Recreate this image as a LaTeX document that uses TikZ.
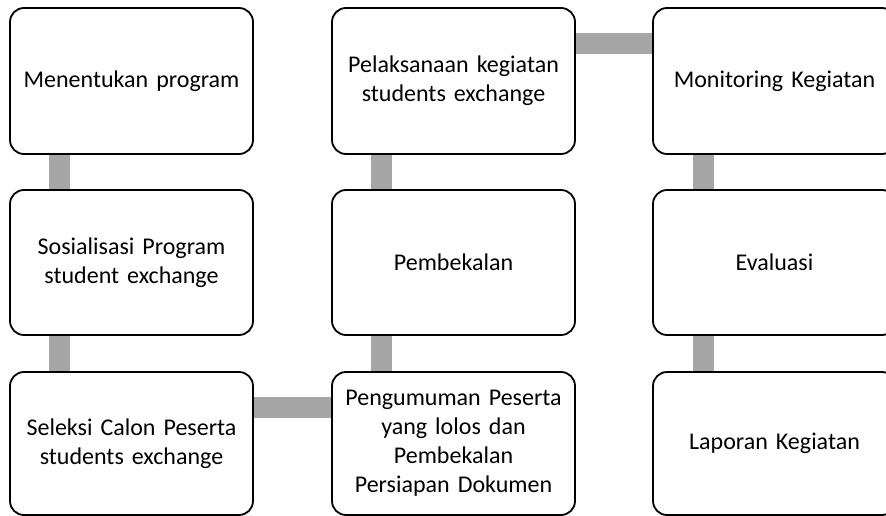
\documentclass[tikz,border=0pt]{standalone}
\usepackage{fontspec}
\setmainfont{Carlito}
\usetikzlibrary{calc,backgrounds}
\definecolor{conngray}{HTML}{A6A6A6}
\tikzset{
  stepbox/.style={draw=black, fill=white, line width=1.8pt, rounded corners=14pt,
    minimum width=243pt, inner sep=0pt, text width=236pt, align=center,
    font=\fontsize{24}{29}\selectfont},
  conn/.style={draw=conngray, line width=21pt, line cap=butt}
}
\begin{document}
\begin{tikzpicture}[x=1pt,y=-1pt]
\useasboundingbox (0,0) rectangle (886,516);
% column 1
\node[stepbox, minimum height=146pt] (a1) at (131.5,81) {Menentukan program};
\node[stepbox, minimum height=145pt] (a2) at (131.5,262.5) {Sosialisasi Program\\student exchange};
\node[stepbox, minimum height=143pt] (a3) at (131.5,443.5) {Seleksi Calon Peserta\\students exchange};
% column 2
\node[stepbox, minimum height=143pt] (b3) at (453.5,443.5) {Pengumuman Peserta\\yang lolos dan\\Pembekalan\\Persiapan Dokumen};
\node[stepbox, minimum height=145pt] (b2) at (453.5,262.5) {Pembekalan};
\node[stepbox, minimum height=146pt] (b1) at (453.5,81) {Pelaksanaan kegiatan\\students exchange};
% column 3
\node[stepbox, minimum height=146pt] (c1) at (774.5,81) {Monitoring Kegiatan};
\node[stepbox, minimum height=145pt] (c2) at (774.5,262.5) {Evaluasi};
\node[stepbox, minimum height=143pt] (c3) at (774.5,443.5) {Laporan Kegiatan};
% connectors
\begin{scope}[on background layer]
\fill[white] (0,0) rectangle (886,516);
\draw[conn] ($(a1.south west)+(50,0)$) -- ($(a2.north west)+(50,0)$);
\draw[conn] ($(a2.south west)+(50,0)$) -- ($(a3.north west)+(50,0)$);
\draw[conn] ($(a3.north east)+(0,36)$) -- ($(b3.north west)+(0,36)$);
\draw[conn] ($(b3.north west)+(50.5,0)$) -- ($(b2.south west)+(50.5,0)$);
\draw[conn] ($(b2.north west)+(50.5,0)$) -- ($(b1.south west)+(50.5,0)$);
\draw[conn] ($(b1.north east)+(0,36)$) -- ($(c1.north west)+(0,36)$);
\draw[conn] ($(c1.south west)+(51,0)$) -- ($(c2.north west)+(51,0)$);
\draw[conn] ($(c2.south west)+(51,0)$) -- ($(c3.north west)+(51,0)$);
\end{scope}
\end{tikzpicture}
\end{document}
